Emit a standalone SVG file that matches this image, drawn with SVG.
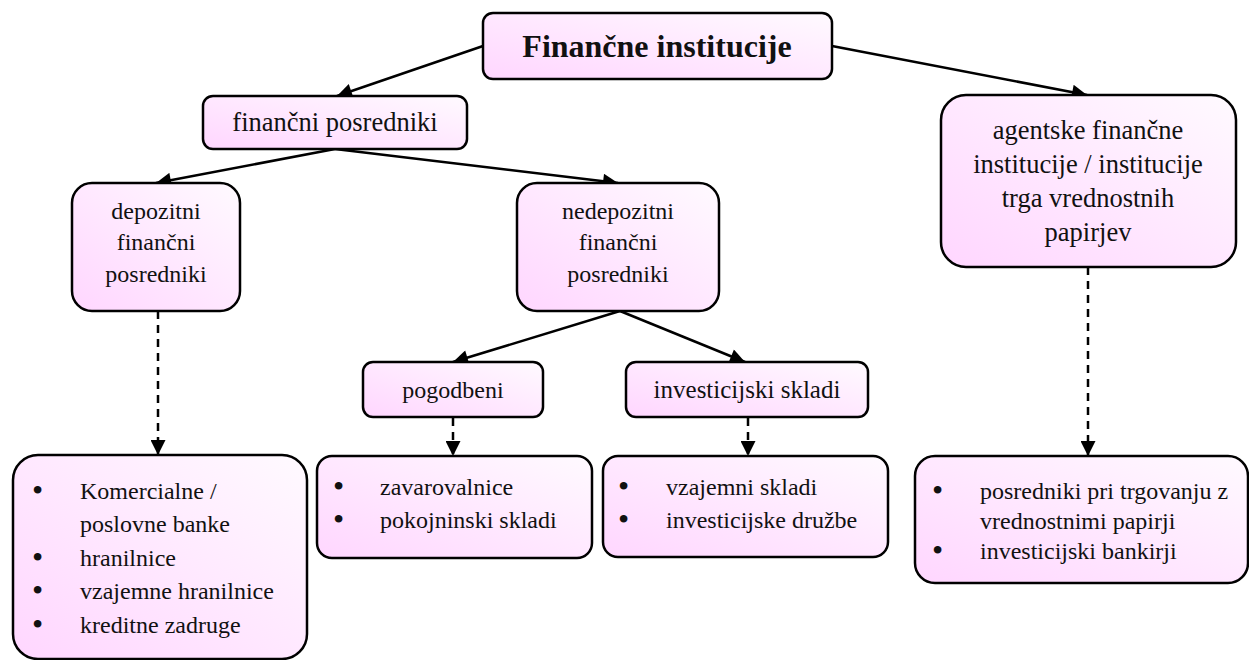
<svg xmlns="http://www.w3.org/2000/svg" width="1249" height="660" viewBox="0 0 1249 660">
<defs>
<linearGradient id="g" x1="0" y1="1" x2="1" y2="0">
<stop offset="0" stop-color="#FFD6FF"/>
<stop offset="1" stop-color="#FFFAFF"/>
</linearGradient>
<marker id="ah" viewBox="0 0 10 10" refX="10" refY="5" markerWidth="6.4" markerHeight="6" markerUnits="strokeWidth" orient="auto">
<path d="M0,0 L10,5 L0,10 z" fill="#000"/>
</marker>
</defs>
<style>
.box{fill:url(#g);stroke:#000;stroke-width:2.5}
.t{font-family:"Liberation Serif","Times New Roman",serif;font-size:24px;fill:#111}
.l{font-size:26.5px}
.c{text-anchor:middle}
.b{font-weight:bold;font-size:32px}
.bu{font-size:32px}
.ln{stroke:#000;stroke-width:2.5;fill:none;marker-end:url(#ah)}
.d{stroke-dasharray:8 6}
</style>
<g id="connectors">
<line class="ln" x1="483" y1="46" x2="337" y2="96"/>
<line class="ln" x1="832" y1="46" x2="1087" y2="95"/>
<line class="ln" x1="335" y1="149" x2="156" y2="183"/>
<line class="ln" x1="335" y1="149" x2="618" y2="183"/>
<line class="ln" x1="620" y1="311" x2="453" y2="362"/>
<line class="ln" x1="620" y1="311" x2="745" y2="362"/>
<line class="ln d" x1="158" y1="311" x2="158" y2="455"/>
<line class="ln d" x1="453" y1="418" x2="453" y2="456"/>
<line class="ln d" x1="748" y1="418" x2="748" y2="456"/>
<line class="ln d" x1="1088" y1="267" x2="1088" y2="456"/>
</g>
<g id="n-root">
<rect class="box" x="483" y="13" width="349" height="66" rx="10"/>
<text class="t c b" x="657" y="57">Finančne institucije</text>
</g>
<g id="n-posredniki">
<rect class="box" x="203" y="96" width="264" height="53" rx="10"/>
<text class="t c l" x="335" y="131">finančni posredniki</text>
</g>
<g id="n-depozitni">
<rect class="box" x="72" y="183" width="168" height="128" rx="20"/>
<text class="t c" x="156" y="219">depozitni</text>
<text class="t c" x="156" y="250">finančni</text>
<text class="t c" x="156" y="282">posredniki</text>
</g>
<g id="n-nedepozitni">
<rect class="box" x="517" y="183" width="202" height="128" rx="20"/>
<text class="t c" x="618" y="219">nedepozitni</text>
<text class="t c" x="618" y="250">finančni</text>
<text class="t c" x="618" y="282">posredniki</text>
</g>
<g id="n-agentske">
<rect class="box" x="941" y="95" width="295" height="172" rx="25"/>
<text class="t c l" x="1088" y="139">agentske finančne</text>
<text class="t c l" x="1088" y="173">institucije / institucije</text>
<text class="t c l" x="1088" y="207">trga vrednostnih</text>
<text class="t c l" x="1088" y="241">papirjev</text>
</g>
<g id="n-pogodbeni">
<rect class="box" x="363" y="362" width="180" height="55" rx="10"/>
<text class="t c" x="453" y="398">pogodbeni</text>
</g>
<g id="n-investicijski">
<rect class="box" x="626" y="362" width="242" height="55" rx="10"/>
<text class="t c" x="747" y="398" style="font-size:25px">investicijski skladi</text>
</g>
<g id="n-depozitni-list">
<rect class="box" x="13" y="455" width="294" height="204" rx="25"/>
<text class="t bu" x="32" y="501">•</text><text class="t" x="80" y="499">Komercialne /</text>
<text class="t" x="80" y="532">poslovne banke</text>
<text class="t bu" x="32" y="568">•</text><text class="t" x="80" y="566">hranilnice</text>
<text class="t bu" x="32" y="601">•</text><text class="t" x="80" y="599">vzajemne hranilnice</text>
<text class="t bu" x="32" y="635">•</text><text class="t" x="80" y="633">kreditne zadruge</text>
</g>
<g id="n-pogodbeni-list">
<rect class="box" x="317" y="456" width="275" height="102" rx="15"/>
<text class="t bu" x="333" y="497">•</text><text class="t" x="380" y="495">zavarovalnice</text>
<text class="t bu" x="333" y="530">•</text><text class="t" x="380" y="528">pokojninski skladi</text>
</g>
<g id="n-investicijski-list">
<rect class="box" x="603" y="456" width="285" height="101" rx="15"/>
<text class="t bu" x="618" y="497">•</text><text class="t" x="666" y="495">vzajemni skladi</text>
<text class="t bu" x="618" y="530">•</text><text class="t" x="666" y="528">investicijske družbe</text>
</g>
<g id="n-agentske-list">
<rect class="box" x="915" y="456" width="333" height="127" rx="20"/>
<text class="t bu" x="932" y="501">•</text><text class="t" x="980" y="499">posredniki pri trgovanju z</text>
<text class="t" x="980" y="529">vrednostnimi papirji</text>
<text class="t bu" x="932" y="561">•</text><text class="t" x="980" y="559">investicijski bankirji</text>
</g>
</svg>
